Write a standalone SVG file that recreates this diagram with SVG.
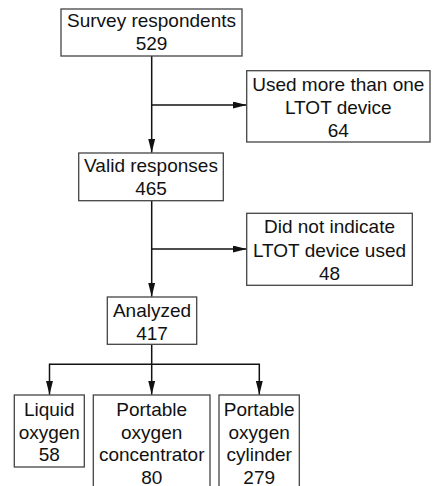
<svg xmlns="http://www.w3.org/2000/svg" width="435" height="486" viewBox="0 0 435 486">
  <style>
    .box { fill: #ffffff; stroke: #444444; stroke-width: 1.3; }
    .lbl { font-family: "Liberation Sans", Arial, sans-serif; font-size: 19px; fill: #111111; text-anchor: middle; }
    .wire { fill: none; stroke: #111111; stroke-width: 1.5; }
  </style>
  <defs>
    <marker id="arrow" viewBox="0 0 14 7" refX="14" refY="3.5" markerWidth="14" markerHeight="7" markerUnits="userSpaceOnUse" orient="auto">
      <path d="M0,0 L14,3.5 L0,7 Z" fill="#111111"/>
    </marker>
  </defs>
  <rect width="435" height="486" fill="#ffffff"/>

  <g id="connectors">
    <path class="wire" d="M151.7,56 V152.7" marker-end="url(#arrow)"/>
    <path class="wire" d="M151.7,105 H246.7" marker-end="url(#arrow)"/>
    <path class="wire" d="M151.7,200.7 V296.7" marker-end="url(#arrow)"/>
    <path class="wire" d="M151.7,249 H246.7" marker-end="url(#arrow)"/>
    <path class="wire" d="M151.7,344.3 V394.7" marker-end="url(#arrow)"/>
    <path class="wire" d="M49.5,364.3 H259.3 V394.7" marker-end="url(#arrow)"/>
    <path class="wire" d="M49.5,363.6 V394.7" marker-end="url(#arrow)"/>
  </g>

  <g id="survey-respondents">
    <rect class="box" x="61" y="9" width="181" height="47"/>
    <text class="lbl" x="151.5" y="27">Survey respondents</text>
    <text class="lbl" x="151.5" y="50">529</text>
  </g>

  <g id="more-than-one-device">
    <rect class="box" x="246.7" y="70.7" width="183.3" height="71.3"/>
    <text class="lbl" x="338.3" y="90.5">Used more than one</text>
    <text class="lbl" x="338.3" y="113.5">LTOT device</text>
    <text class="lbl" x="338.3" y="136.5">64</text>
  </g>

  <g id="valid-responses">
    <rect class="box" x="78.7" y="153" width="144.6" height="47.7"/>
    <text class="lbl" x="151" y="171.5">Valid responses</text>
    <text class="lbl" x="151" y="194.5">465</text>
  </g>

  <g id="device-not-indicated">
    <rect class="box" x="246.7" y="213.3" width="165.6" height="72"/>
    <text class="lbl" x="329.5" y="233.3">Did not indicate</text>
    <text class="lbl" x="329.5" y="256.5">LTOT device used</text>
    <text class="lbl" x="329.5" y="279.5">48</text>
  </g>

  <g id="analyzed">
    <rect class="box" x="107.3" y="297" width="89.4" height="47.3"/>
    <text class="lbl" x="152" y="316.7">Analyzed</text>
    <text class="lbl" x="152" y="340">417</text>
  </g>

  <g id="liquid-oxygen">
    <rect class="box" x="14.3" y="395" width="70" height="72"/>
    <text class="lbl" x="49.3" y="415.7">Liquid</text>
    <text class="lbl" x="49.3" y="438.5">oxygen</text>
    <text class="lbl" x="49.3" y="461">58</text>
  </g>

  <g id="portable-concentrator">
    <rect class="box" x="93.3" y="395" width="116.7" height="100"/>
    <text class="lbl" x="151.7" y="415.7">Portable</text>
    <text class="lbl" x="151.7" y="438.5">oxygen</text>
    <text class="lbl" x="151.7" y="461">concentrator</text>
    <text class="lbl" x="151.7" y="484">80</text>
  </g>

  <g id="portable-cylinder">
    <rect class="box" x="219" y="395" width="80.3" height="100"/>
    <text class="lbl" x="259.2" y="415.7">Portable</text>
    <text class="lbl" x="259.2" y="438.5">oxygen</text>
    <text class="lbl" x="259.2" y="461">cylinder</text>
    <text class="lbl" x="259.2" y="484">279</text>
  </g>
</svg>
